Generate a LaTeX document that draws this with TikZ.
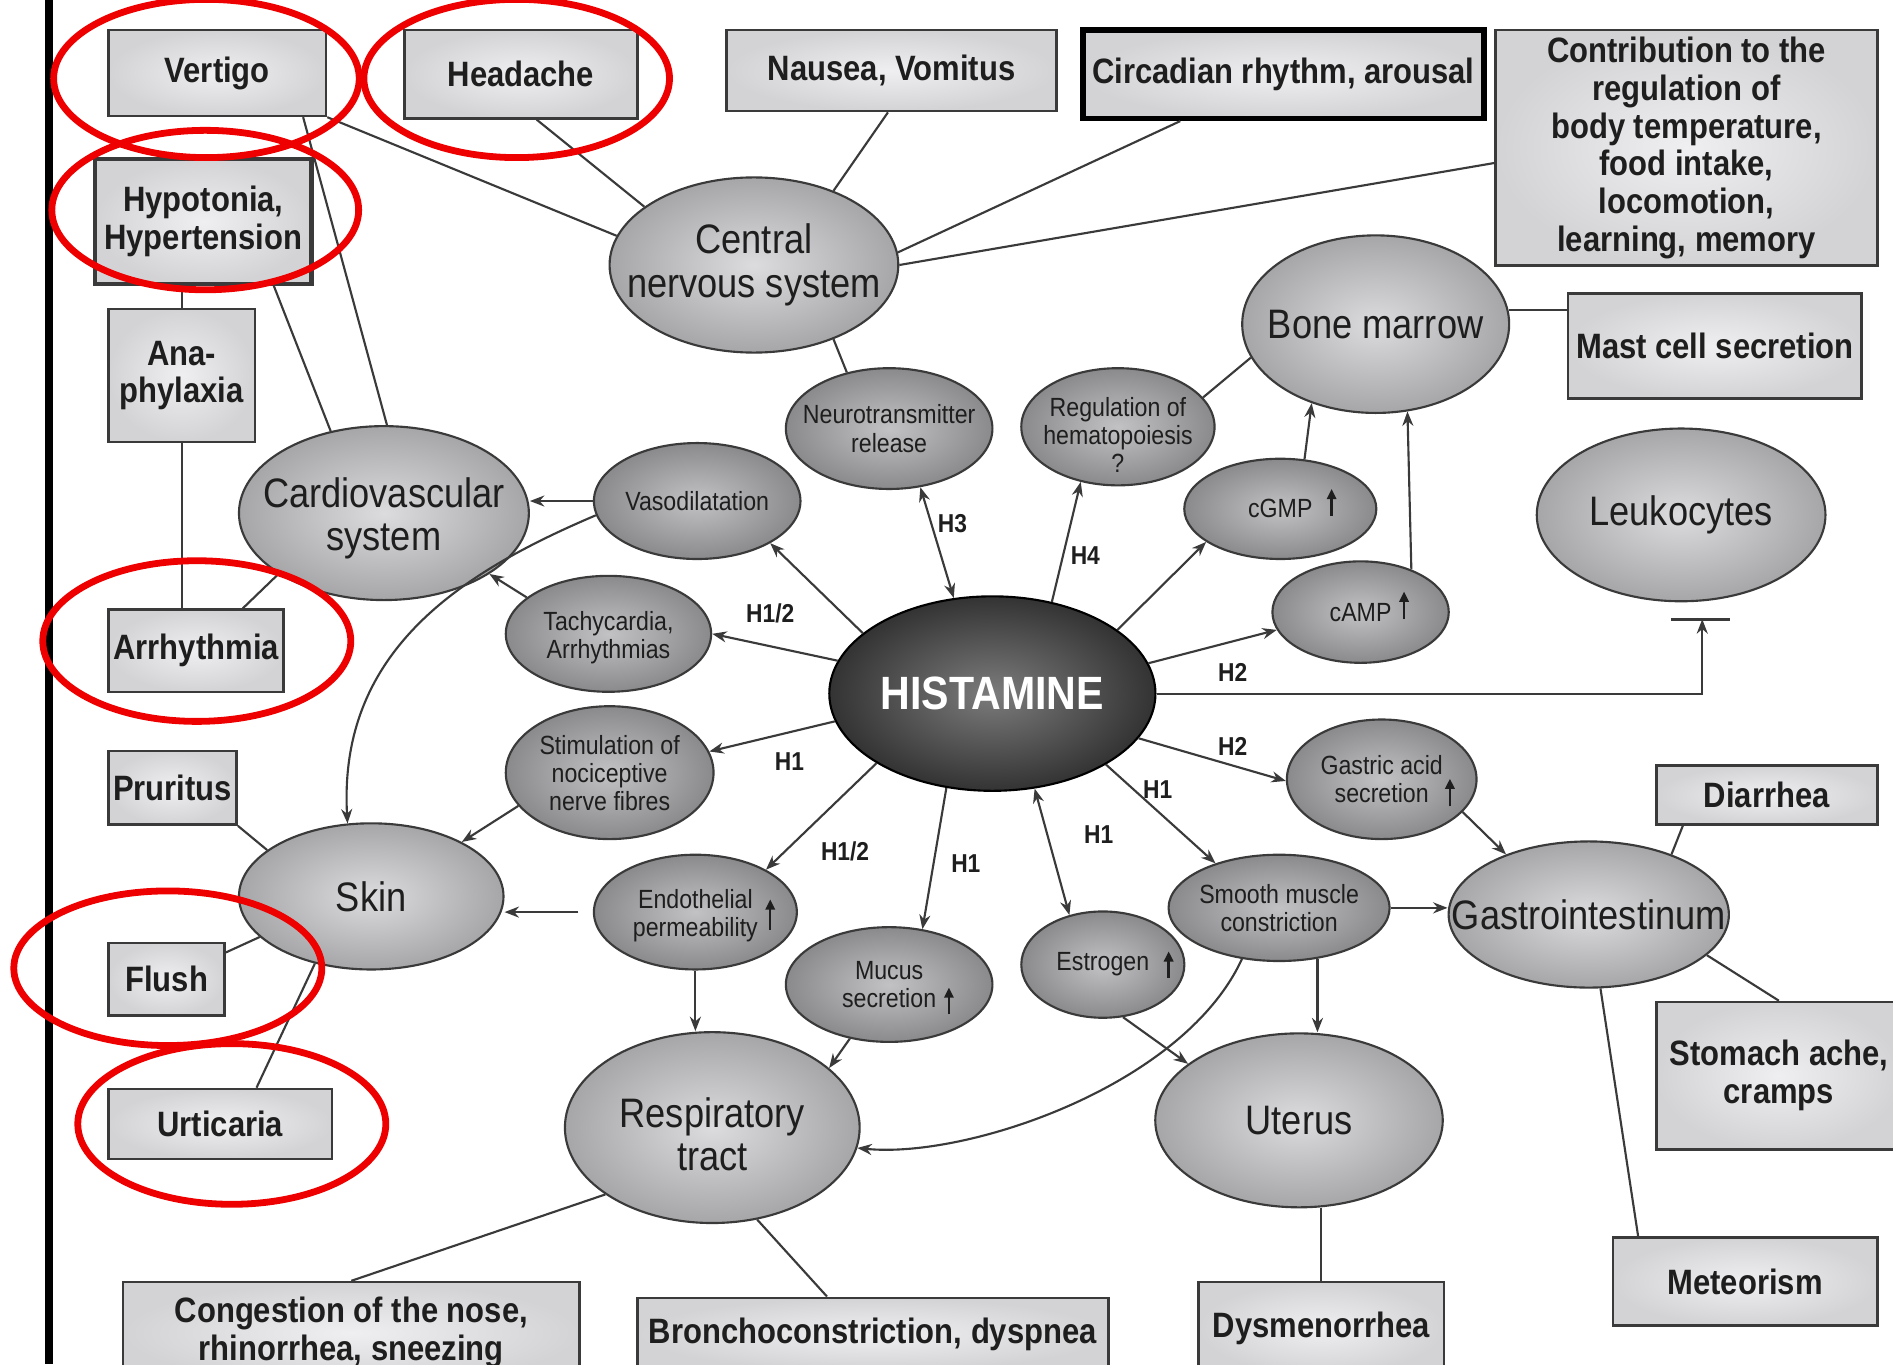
\documentclass[tikz,border=0pt]{standalone}
\usepackage{fontspec}
\newfontfamily\cf[FakeStretch=0.88]{Liberation Sans}
\usetikzlibrary{shapes.geometric,arrows.meta,calc}

\definecolor{boxin}{HTML}{EFEFF1}
\definecolor{boxout}{HTML}{D3D3D5}
\definecolor{bigin}{HTML}{DCDCDE}
\definecolor{bigout}{HTML}{A6A6A8}
\definecolor{smin}{HTML}{C2C2C4}
\definecolor{smout}{HTML}{8A8A8C}
\definecolor{hin}{HTML}{7C7C7C}
\definecolor{hout}{HTML}{333333}
\definecolor{ink}{HTML}{1E1E1E}
\definecolor{edge}{HTML}{3A3A3A}
\definecolor{ringred}{HTML}{EE0000}

\tikzset{
  box/.style={rectangle, draw=edge, line width=0.6pt, inner color=boxin, outer color=boxout,
    inner sep=0pt, align=center, text=ink, font=\cf\bfseries\fontsize{8.3pt}{8.9pt}\selectfont},
  sz/.style 2 args={minimum width=#1, minimum height=#2},
  bigell/.style={ellipse, draw=edge, line width=0.5pt, inner color=bigin, outer color=bigout, inner sep=0pt},
  smell/.style={ellipse, draw=edge, line width=0.5pt, inner color=smin, outer color=smout, inner sep=0pt},
  histell/.style={ellipse, draw=black, line width=0.5pt, inner color=hin, outer color=hout, inner sep=0pt},
  bigtxt/.style={align=center, inner sep=0pt, text=ink, font=\cf\fontsize{9.7pt}{10.2pt}\selectfont},
  smtxt/.style={align=center, inner sep=0pt, text=ink, font=\cf\fontsize{6.2pt}{6.6pt}\selectfont},
  hl/.style={inner sep=0pt, text=ink, font=\cf\bfseries\fontsize{6.1pt}{7pt}\selectfont},
  link/.style={draw=edge, line width=0.5pt},
  arr/.style={link, -{Stealth[length=3.4pt,width=2.6pt]}},
  darr/.style={link, {Stealth[length=3.4pt,width=2.6pt]}-{Stealth[length=3.4pt,width=2.6pt]}},
  upar/.style={draw=ink, line width=0.55pt, -{Triangle[length=2.4pt,width=2.2pt]}},
  ring/.style={ellipse, draw=ringred, line width=1.6pt, inner sep=0pt},
}

\begin{document}
\begin{tikzpicture}[x=0.01cm, y=-0.01cm]
\fill[white] (0,0) rectangle (1568,1130);
\useasboundingbox (0,0) rectangle (1568,1130);

% margin rule
\draw[line width=1.7pt] (40.5,0) -- (40.5,1130);

% symptom and function boxes
\node[box, sz={1.80cm}{0.71cm}] (vertigo) at (180,60.5) {Vertigo};
\node[box, sz={1.93cm}{0.73cm}] (headache) at (431.5,61.5) {Headache};
\node[box, sz={2.73cm}{0.67cm}] (nausea) at (738.5,58.5) {Nausea, Vomitus};
\node[box, sz={3.32cm}{0.73cm}, line width=1.3pt, draw=black] (circ) at (1063,61.5) {Circadian rhythm, arousal};
\node[box, sz={3.16cm}{1.95cm}] (contrib) at (1397,122.5) {Contribution to the\\regulation of\\body temperature,\\food intake,\\locomotion,\\learning, memory};
\node[box, sz={2.43cm}{0.87cm}] (mast) at (1420.5,286.5) {Mast cell secretion};
\node[box, sz={1.79cm}{1.03cm}, line width=1pt] (hypo) at (168.5,183.5) {Hypotonia,\\Hypertension};
\node[box, sz={1.21cm}{1.10cm}] (ana) at (150.5,311) {Ana-\\phylaxia};
\node[box, sz={1.45cm}{0.68cm}] (arrh) at (162.5,539) {Arrhythmia};
\node[box, sz={1.06cm}{0.61cm}] (prur) at (143,652.5) {Pruritus};
\node[box, sz={0.96cm}{0.60cm}] (flush) at (138,811) {Flush};
\node[box, sz={1.85cm}{0.58cm}] (urt) at (182.5,931) {Urticaria};
\node[box, sz={1.83cm}{0.49cm}] (diar) at (1463.5,658.5) {Diarrhea};
\node[box, sz={2.03cm}{1.22cm}] (stom) at (1473.5,891) {Stomach ache,\\cramps};
\node[box, sz={2.19cm}{0.73cm}] (meteo) at (1445.5,1061.5) {Meteorism};
\node[box, sz={2.03cm}{0.76cm}] (dysm) at (1094.5,1100) {Dysmenorrhea};
\node[box, sz={3.90cm}{0.60cm}] (bron) at (723,1105) {Bronchoconstriction, dyspnea};
\node[box, sz={3.78cm}{0.84cm}] (cong) at (291,1104) {Congestion of the nose,\\rhinorrhea, sneezing};

% organ ellipses
\node[bigell, sz={2.39cm}{1.45cm}, label={[bigtxt]center:{Central\\nervous system}}] (cns) at (624.5,219.5) {};
\node[bigell, sz={2.21cm}{1.47cm}, label={[bigtxt]center:{Bone marrow}}] (bm) at (1139.5,268.5) {};
\node[bigell, sz={2.39cm}{1.43cm}, label={[bigtxt]center:{Leukocytes}}] (leuk) at (1392.5,426.5) {};
\node[bigell, sz={2.40cm}{1.44cm}, label={[bigtxt, yshift=-1.2pt]center:{Cardiovascular\\system}}] (cv) at (318,425) {};
\node[bigell, sz={2.19cm}{1.21cm}, label={[bigtxt]center:{Skin}}] (skin) at (307.5,742.5) {};
\node[bigell, sz={2.44cm}{1.58cm}, label={[bigtxt, yshift=-1.5pt]center:{Respiratory\\tract}}] (resp) at (590,934) {};
\node[bigell, sz={2.38cm}{1.44cm}, label={[bigtxt]center:{Uterus}}] (ut) at (1076,928) {};
\node[bigell, sz={2.32cm}{1.21cm}, label={[bigtxt]center:{Gastrointestinum}}] (gi) at (1316,757.5) {};

% central node
\node[histell, sz={2.70cm}{1.61cm}, label={[inner sep=0pt, text=white, font=\cf\bfseries\fontsize{11pt}{12pt}\selectfont]center:{HISTAMINE}}] (hist) at (822,574.5) {};

% effect ellipses
\node[smell, sz={1.71cm}{1.00cm}, label={[smtxt]center:{Neurotransmitter\\release}}] (neuro) at (736.5,355) {};
\node[smell, sz={1.60cm}{0.97cm}, label={[smtxt, yshift=-2pt]center:{Regulation of\\hematopoiesis\\?}}] (reg) at (926,353.5) {};
\node[smell, sz={1.71cm}{0.96cm}, label={[smtxt]center:{Vasodilatation}}] (vas) at (577.5,415) {};
\node[smell, sz={1.59cm}{0.83cm}, label={[smtxt]center:{cGMP}}] (cgmp) at (1060.5,421.5) {};
\node[smell, sz={1.46cm}{0.84cm}, label={[smtxt]center:{cAMP}}] (camp) at (1127,507) {};
\node[smell, sz={1.70cm}{0.96cm}, label={[smtxt, yshift=-0.8pt]center:{Tachycardia,\\Arrhythmias}}] (tach) at (504,525) {};
\node[smell, sz={1.72cm}{1.10cm}, label={[smtxt]center:{Stimulation of\\nociceptive\\nerve fibres}}] (stim) at (505,640) {};
\node[smell, sz={1.68cm}{0.95cm}, label={[smtxt, yshift=-0.8pt]center:{Endothelial\\permeability}}] (endo) at (576,755.5) {};
\node[smell, sz={1.71cm}{0.95cm}, label={[smtxt]center:{Mucus\\secretion}}] (mucus) at (736.5,815.5) {};
\node[smell, sz={1.35cm}{0.88cm}, label={[smtxt]center:{Estrogen}}] (estr) at (913.5,799) {};
\node[smell, sz={1.83cm}{0.88cm}, label={[smtxt]center:{Smooth muscle\\constriction}}] (sm) at (1059.5,752) {};
\node[smell, sz={1.57cm}{0.99cm}, label={[smtxt]center:{Gastric acid\\secretion}}] (gastric) at (1144.5,645.5) {};

% "increase" marks inside the effect ellipses
\draw[upar] ($(cgmp.center)+(42.5,5.5)$) -- ($(cgmp.center)+(42.5,-16.5)$);
\draw[upar] ($(camp.center)+(36,6)$) -- ($(camp.center)+(36,-17)$);
\draw[upar] ($(gastric.center)+(56.5,22.5)$) -- ($(gastric.center)+(56.5,-0.5)$);
\draw[upar] ($(endo.center)+(62,14.5)$) -- ($(endo.center)+(62,-10.5)$);
\draw[upar] ($(mucus.center)+(49.5,24.5)$) -- ($(mucus.center)+(49.5,2.5)$);
\draw[upar] ($(estr.center)+(54.5,11)$) -- ($(estr.center)+(54.5,-11)$);

% plain links to symptoms and functions
\draw[link] (vertigo.south east) -- (cns.168.2);
\draw[link] ($(vertigo.south east)+(-20,0)$) -- (cv.88.4);
\draw[link] ($(headache.south)+(13,0)$) -- (cns.152.8);
\draw[link] ($(nausea.south)+(-3,0)$) -- (cns.43.7);
\draw[link] ($(circ.south west)+(83,0)$) -- (cns.5.7);
\draw[link] ($(contrib.west)+(0,12.5)$) -- (cns.0.7);
\draw[link] ($(hypo.south east)+(-33,0)$) -- (cv.123.7);
\draw[link] (ana.north) -- (ana.north |- hypo.south);
\draw[link] (ana.south) -- (ana.south |- arrh.north);
\draw[link] ($(arrh.north east)+(-35,0)$) -- (cv.210.3);
\draw[link] (cns.-43.7) -- (neuro.127);
\draw[link] (bm.195.4) -- (reg.19.3);
\draw[link] (bm.6.5) -- (bm.6.5 -| mast.west);
\draw[link] (prur.south east) -- (skin.156.3);
\draw[link] ($(flush.north east)+(0,9)$) -- (skin.200.4);
\draw[link] ($(urt.north)+(30,0)$) -- (skin.230);
\draw[link] (cong.north) -- (resp.212.4);
\draw[link] ($(bron.north)+(-38,0)$) -- (resp.-64);
\draw[link] (dysm.north) -- (dysm.north |- ut.south);
\draw[link] ($(diar.south west)+(23,0)$) -- (gi.36.2);
\draw[link] (stom.north) -- (gi.-19.5);
\draw[link] ($(meteo.north west)+(22,0)$) -- (gi.-81.5);

% effects acting on organs
\draw[arr] (vas.west) -- (vas.west -| cv.east);
\draw[arr] (vas.188) .. controls (380,475) and (280,540) .. (skin.108.7);
\draw[arr] (tach.156.4) -- (cv.-30.5);
\draw[arr] (stim.200.5) -- (skin.31.5);
\draw[arr, shorten <=3.4pt] (endo.west) -- (endo.west -| skin.east);
\draw[arr] (endo.south) -- (endo.south |- resp.north);
\draw[arr] (mucus.234) -- (resp.27);
\draw[arr] (sm.234) .. controls (980,900) and (800,960) .. (resp.-8.4);
\draw[arr] (sm.-53.7) -- (sm.-53.7 |- ut.north);
\draw[arr] (sm.east) -- (sm.east -| gi.west);
\draw[arr] (estr.-69.4) -- (ut.153.4);
\draw[arr] (gastric.-22.7) -- (gi.144);
\draw[arr] (cgmp.64.8) -- (bm.231.6);
\draw[arr] (camp.40.6) -- (bm.-70.2);

% receptor-mediated effects of histamine
\draw[arr] (hist.155.8) -- (vas.-30.6);
\draw[arr] (hist.168.6) -- (tach.-0.7);
\draw[arr] (hist.190.9) -- (stim.12.8);
\draw[arr] (hist.211.6) -- (endo.31);
\draw[arr] (hist.244.5) -- (mucus.59.6);
\draw[darr] (hist.-66) -- (estr.124.7);
\draw[arr] (hist.-32.1) -- (sm.145.9);
\draw[arr] (hist.-17) -- (gastric.181);
\draw[arr] (hist.11.1) -- (camp.192.9);
\draw[arr] (hist.27.9) -- (cgmp.204.3);
\draw[arr] (hist.57.2) -- (reg.236.3);
\draw[darr] (hist.112) -- (neuro.-62.1);

% inhibition of leukocytes
\coordinate (leukbar) at ($(leuk.south)+(17.5,14)$);
\draw[arr] (hist.east) -| (leukbar);
\draw[link, line width=0.7pt] ($(leukbar)+(-26,0)$) -- ($(leukbar)+(23,0)$);

% receptor labels
\node[hl] (lh3) at (789,434) {H3};
\node[hl] (lh4) at (899,460) {H4};
\node[hl] (lh12a) at (638,508) {H1/2};
\node[hl] (lh2a) at (1021,557) {H2};
\node[hl] (lh1a) at (654,631) {H1};
\node[hl] (lh2b) at (1021,618) {H2};
\node[hl] (lh1b) at (959,654) {H1};
\node[hl] (lh12b) at (700,705) {H1/2};
\node[hl] (lh1c) at (800,715) {H1};
\node[hl] (lh1d) at (910,691) {H1};

% red highlight rings
\node[ring, sz={2.53cm}{1.31cm}] (ringvertigo) at (171,65) {};
\node[ring, sz={2.53cm}{1.31cm}] (ringheadache) at (428,65) {};
\node[ring, sz={2.54cm}{1.32cm}] (ringhypo) at (170,174) {};
\node[ring, sz={2.55cm}{1.33cm}] (ringarrh) at (163,531) {};
\node[ring, sz={2.55cm}{1.28cm}] (ringflush) at (139,802) {};
\node[ring, sz={2.55cm}{1.33cm}] (ringurt) at (192,931) {};
\end{tikzpicture}
\end{document}
